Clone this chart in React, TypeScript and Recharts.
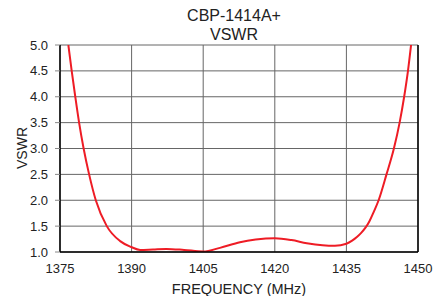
import React from 'react';
import { LineChart, Line, XAxis, YAxis, CartesianGrid, ReferenceLine } from 'recharts';

const frequencies = [
  1376.75, 1377.45, 1378.2, 1379.0, 1379.95, 1381.1, 1382.5, 1384.8, 1387.6, 1389.9,
  1391.8, 1394.5, 1397.3, 1401, 1405, 1408.5, 1412.7, 1416, 1420, 1423.5, 1426.7,
  1430, 1432.6, 1435, 1436.2, 1437.2, 1438.1, 1439.0, 1439.8, 1440.75, 1441.75,
  1443.4, 1444.95, 1446.15, 1447.1, 1447.9, 1448.55,
];
const vswr = [
  5.0, 4.5, 4.0, 3.5, 3.0, 2.5, 2.0, 1.5, 1.21, 1.097,
  1.04, 1.05, 1.06, 1.04, 1.01, 1.08, 1.19, 1.24, 1.265, 1.23, 1.17,
  1.13, 1.12, 1.16, 1.22, 1.29, 1.37, 1.47, 1.59, 1.78, 2.0,
  2.5, 3.0, 3.5, 4.0, 4.5, 5.0,
];
const xTicks = [1375, 1390, 1405, 1420, 1435, 1450];
const yTicks = [1.0, 1.5, 2.0, 2.5, 3.0, 3.5, 4.0, 4.5, 5.0];
const titleLines = ['CBP-1414A+', 'VSWR'];
const xLabel = 'FREQUENCY (MHz)';
const yLabel = 'VSWR';

const data = frequencies.map((f, i) => ({ f, v: vswr[i] }));
const font = '"Liberation Sans", Arial, sans-serif';

export default function App() {
  return (
    <div style={{ position: 'absolute', left: 0, top: 0, width: 435, height: 296, fontFamily: font, background: '#fff' }}>
      <LineChart width={435} height={296} data={data} margin={{ top: 45, right: 17, bottom: 0, left: 0 }}>
        <CartesianGrid stroke="#666" strokeWidth={1} verticalValues={xTicks} horizontalValues={yTicks} />
        <XAxis
          type="number"
          dataKey="f"
          domain={[1375, 1450]}
          ticks={xTicks}
          interval={0}
          height={44}
          tickLine={false}
          tickSize={6}
          tickMargin={6}
          axisLine={{ stroke: '#000', strokeWidth: 1.5 }}
          tick={{ fontSize: 13, fill: '#222', fontFamily: font }}
          allowDataOverflow
        />
        <YAxis
          type="number"
          domain={[1, 5]}
          ticks={yTicks}
          interval={0}
          width={60}
          tickSize={5}
          tickMargin={7}
          tickLine={{ stroke: '#888' }}
          axisLine={{ stroke: '#000', strokeWidth: 1.5 }}
          tickFormatter={(v: number) => v.toFixed(1)}
          tick={{ fontSize: 13, fill: '#222', fontFamily: font }}
          allowDataOverflow
        />
        <ReferenceLine x={1450} stroke="#000" strokeWidth={1.5} />
        <Line
          type="monotoneX"
          dataKey="v"
          stroke="#ee1c25"
          strokeWidth={2}
          dot={false}
          isAnimationActive={false}
        />
      </LineChart>
      <div style={{ position: 'absolute', left: 0, width: 468, top: 6, textAlign: 'center', fontSize: 16, lineHeight: '19px', color: '#222' }}>
        {titleLines.map((t) => (
          <div key={t}>{t}</div>
        ))}
      </div>
      <div style={{ position: 'absolute', left: 60, width: 358, top: 281, textAlign: 'center', fontSize: 14.5, lineHeight: '17px', color: '#222' }}>
        {xLabel}
      </div>
      <div style={{ position: 'absolute', left: 22, top: 148, width: 0, height: 0 }}>
        <div style={{ position: 'absolute', left: -40, top: -9, width: 80, textAlign: 'center', fontSize: 14, lineHeight: '18px', color: '#222', transform: 'rotate(-90deg)' }}>
          {yLabel}
        </div>
      </div>
    </div>
  );
}
